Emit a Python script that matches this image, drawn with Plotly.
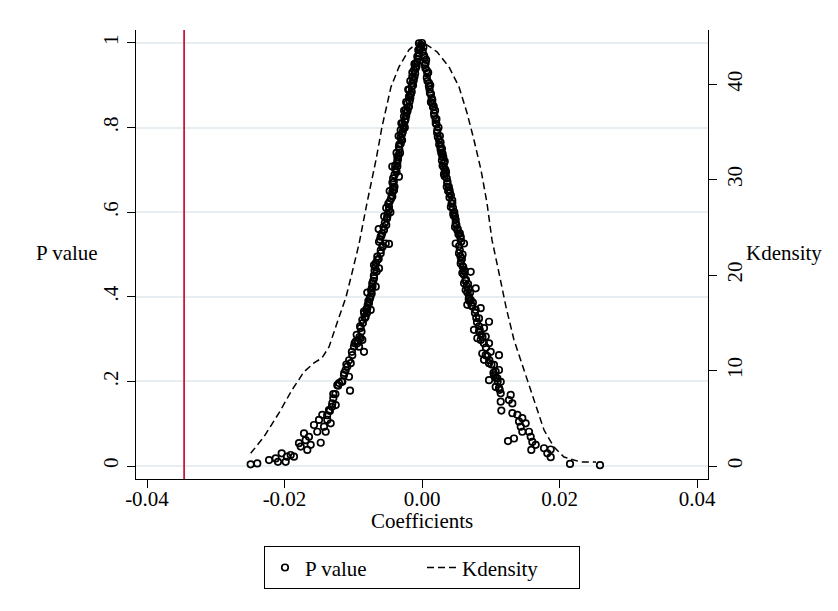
import plotly.graph_objects as go

# ---------------- data ----------------
# Scatter: (coefficient, p value)
left_points = [
    (-0.02492, 0.004), (-0.02396, 0.006), (-0.02225, 0.014), (-0.02128, 0.018),
    (-0.02095, 0.010), (-0.02041, 0.030), (-0.01983, 0.010), (-0.01964, 0.022),
    (-0.01910, 0.026), (-0.01862, 0.022), (-0.01789, 0.054), (-0.01764, 0.046),
    (-0.01716, 0.077), (-0.01692, 0.061), (-0.01668, 0.038), (-0.01644, 0.069),
    (-0.01619, 0.050), (-0.01571, 0.097), (-0.01523, 0.081), (-0.01498, 0.109),
    (-0.01473, 0.055), (-0.01450, 0.121), (-0.01425, 0.093), (-0.01401, 0.081),
    (-0.01377, 0.109), (-0.01353, 0.132), (-0.01328, 0.101), (-0.01305, 0.148),
    (-0.01290, 0.170), (-0.01255, 0.144), (-0.01232, 0.191), (-0.01207, 0.196),
    (-0.01159, 0.199), (-0.01135, 0.215), (-0.01110, 0.227), (-0.01087, 0.235),
    (-0.01062, 0.211), (-0.01047, 0.178), (-0.01037, 0.243), (-0.01014, 0.262),
    (-0.00989, 0.282), (-0.00964, 0.294), (-0.00941, 0.290), (-0.00916, 0.282),
    (-0.00892, 0.302), (-0.00868, 0.298), (-0.00844, 0.270), (-0.00892, 0.326),
    (-0.00868, 0.345), (-0.00844, 0.365), (-0.00819, 0.353), (-0.00796, 0.373),
    (-0.00771, 0.385), (-0.00746, 0.369), (-0.00796, 0.410), (-0.00732, 0.408),
    (-0.00723, 0.432), (-0.00698, 0.444), (-0.00673, 0.424), (-0.00698, 0.475),
    (-0.00650, 0.487), (-0.00625, 0.467), (-0.00601, 0.503), (-0.00577, 0.518),
    (-0.00625, 0.530), (-0.00528, 0.526), (-0.00480, 0.525),
    (-0.00601, 0.542), (-0.00553, 0.558), (-0.00505, 0.589), (-0.00480, 0.605),
    (-0.00432, 0.637), (-0.00407, 0.652), (-0.00432, 0.708), (-0.00359, 0.708),
    (-0.00335, 0.684), (-0.00359, 0.731), (-0.00335, 0.755), (-0.00310, 0.778),
    (-0.00310, 0.794), (-0.00287, 0.810), (-0.00262, 0.826), (-0.00237, 0.842),
    (-0.00214, 0.857), (-0.00189, 0.873), (-0.00189, 0.889), (-0.00141, 0.905),
    (-0.00141, 0.920), (-0.00116, 0.936), (-0.00092, 0.952), (-0.00068, 0.968),
    (-0.00054, 0.983), (-0.00044, 0.999), (0.00000, 1.000),
    (-0.0058, 0.55), (-0.0052, 0.57), (-0.0046, 0.60), (-0.0049, 0.62),
    (-0.0044, 0.64), (-0.0040, 0.66), (-0.0042, 0.68), (-0.0038, 0.70),
    (-0.0036, 0.72), (-0.0032, 0.74), (-0.0033, 0.76), (-0.0029, 0.77),
    (-0.0028, 0.79), (-0.0025, 0.80), (-0.0024, 0.82), (-0.0021, 0.84),
    (-0.0019, 0.85), (-0.0017, 0.87), (-0.0016, 0.88), (-0.0013, 0.90),
    (-0.0011, 0.92), (-0.0009, 0.94), (-0.0007, 0.955), (-0.0005, 0.97),
    (-0.0003, 0.985), (-0.0001, 0.995),
    (-0.0063, 0.56), (-0.0055, 0.59), (-0.0052, 0.61), (-0.0047, 0.65),
    (-0.0043, 0.67), (-0.0039, 0.71), (-0.0037, 0.74), (-0.0034, 0.78),
    (-0.0030, 0.81), (-0.0026, 0.84), (-0.0023, 0.86), (-0.0020, 0.89),
    (-0.0017, 0.91), (-0.0014, 0.93), (-0.0011, 0.95),
    (-0.0070, 0.45), (-0.0066, 0.46), (-0.0063, 0.49), (-0.0060, 0.51),
    (-0.0057, 0.52), (-0.0068, 0.47), (-0.0073, 0.42), (-0.0075, 0.40),
    (-0.0078, 0.39), (-0.0081, 0.37), (-0.0084, 0.36),
    (-0.0090, 0.33), (-0.0095, 0.31), (-0.0098, 0.29), (-0.0102, 0.27),
    (-0.0106, 0.25), (-0.0110, 0.24), (-0.0113, 0.22), (-0.0117, 0.20),
    (-0.0122, 0.19), (-0.0126, 0.17), (-0.0129, 0.16), (-0.0131, 0.14),
    (-0.0134, 0.13), (-0.0138, 0.12),
    (-0.0061, 0.535), (-0.0059, 0.545), (-0.0056, 0.565), (-0.0054, 0.575),
    (-0.0051, 0.585), (-0.0050, 0.595), (-0.0048, 0.612), (-0.0047, 0.625),
    (-0.0045, 0.632), (-0.0043, 0.648), (-0.0042, 0.658), (-0.0041, 0.672),
    (-0.0040, 0.688), (-0.0037, 0.695), (-0.0039, 0.702), (-0.0036, 0.715),
    (-0.0035, 0.725), (-0.0034, 0.735), (-0.0033, 0.748), (-0.0031, 0.762),
    (-0.0030, 0.772), (-0.0029, 0.785), (-0.0027, 0.797), (-0.0026, 0.806),
    (-0.0025, 0.815), (-0.0023, 0.828), (-0.0022, 0.836), (-0.0020, 0.848),
    (-0.0018, 0.862), (-0.0017, 0.878), (-0.0015, 0.885), (-0.0015, 0.897),
    (-0.0012, 0.912), (-0.0010, 0.928), (-0.0008, 0.945), (-0.0006, 0.962),
    (-0.0004, 0.975), (-0.0002, 0.990),
    (-0.0065, 0.495), (-0.0067, 0.480), (-0.0069, 0.462), (-0.0071, 0.438),
    (-0.0072, 0.425), (-0.0074, 0.415), (-0.0076, 0.395), (-0.0079, 0.380),
    (-0.0080, 0.362), (-0.0083, 0.350), (-0.0086, 0.338), (-0.0088, 0.318),
    (-0.0091, 0.305), (-0.0093, 0.295),
]

right_points = [
    (0.00053, 0.952), (0.00078, 0.928), (0.00102, 0.905), (0.00116, 0.881),
    (0.00150, 0.857), (0.00175, 0.834), (0.00199, 0.818), (0.00223, 0.794),
    (0.00247, 0.771), (0.00272, 0.755), (0.00296, 0.731), (0.00320, 0.716),
    (0.00345, 0.692), (0.00368, 0.668), (0.00407, 0.645), (0.00441, 0.621),
    (0.00455, 0.597), (0.00490, 0.574), (0.00513, 0.558), (0.00563, 0.542),
    (0.00611, 0.526), (0.00490, 0.526), (0.00538, 0.503), (0.00563, 0.479),
    (0.00587, 0.456), (0.00611, 0.463), (0.00708, 0.459), (0.00611, 0.432),
    (0.00635, 0.416), (0.00684, 0.400), (0.00781, 0.420), (0.00659, 0.381),
    (0.00732, 0.377), (0.00781, 0.369), (0.00854, 0.373), (0.00829, 0.349),
    (0.00975, 0.341), (0.00756, 0.322), (0.00829, 0.318), (0.00902, 0.326),
    (0.00805, 0.302), (0.00854, 0.298), (0.00927, 0.306), (0.00975, 0.290),
    (0.00877, 0.266), (0.00927, 0.262), (0.00999, 0.270), (0.01120, 0.262),
    (0.00902, 0.251), (0.00975, 0.243), (0.01047, 0.239), (0.01072, 0.223),
    (0.01120, 0.227), (0.01047, 0.215), (0.01096, 0.207), (0.00975, 0.203),
    (0.01145, 0.199), (0.01072, 0.187), (0.01120, 0.184), (0.01145, 0.172),
    (0.01290, 0.168), (0.01265, 0.156), (0.01145, 0.152), (0.01314, 0.148),
    (0.01154, 0.131), (0.01314, 0.125), (0.01387, 0.121), (0.01411, 0.105),
    (0.01459, 0.113), (0.01508, 0.101), (0.01436, 0.093), (0.01556, 0.081),
    (0.01459, 0.081), (0.01338, 0.065), (0.01251, 0.059), (0.01581, 0.069),
    (0.01605, 0.057), (0.01654, 0.050), (0.01590, 0.038), (0.01775, 0.042),
    (0.01872, 0.039), (0.01823, 0.030), (0.01872, 0.021), (0.02153, 0.005),
    (0.02589, 0.002),
    (0.0002, 0.99), (0.0003, 0.97), (0.0006, 0.96), (0.0005, 0.94),
    (0.0009, 0.93), (0.0008, 0.91), (0.0012, 0.90), (0.0011, 0.89),
    (0.0014, 0.87), (0.0013, 0.86), (0.0017, 0.85), (0.0019, 0.84),
    (0.0021, 0.82), (0.0020, 0.81), (0.0024, 0.80), (0.0026, 0.78),
    (0.0025, 0.76), (0.0029, 0.75), (0.0028, 0.74), (0.0031, 0.73),
    (0.0033, 0.72), (0.0030, 0.71), (0.0034, 0.70), (0.0032, 0.69),
    (0.0036, 0.68), (0.0039, 0.66), (0.0038, 0.65), (0.0042, 0.64),
    (0.0043, 0.62), (0.0045, 0.61), (0.0047, 0.60), (0.0048, 0.59),
    (0.0050, 0.57), (0.0052, 0.56), (0.0055, 0.55),
    (0.0057, 0.53), (0.0055, 0.51), (0.0059, 0.50), (0.0058, 0.49),
    (0.0060, 0.47), (0.0062, 0.46), (0.0064, 0.44), (0.0067, 0.43),
    (0.0066, 0.41), (0.0070, 0.41), (0.0069, 0.39), (0.0072, 0.38),
    (0.0079, 0.35), (0.0083, 0.33), (0.0086, 0.31), (0.0090, 0.29),
    (0.0093, 0.28), (0.0095, 0.26), (0.0098, 0.25), (0.0101, 0.24),
    (0.0104, 0.22), (0.0107, 0.21), (0.0110, 0.20), (0.0113, 0.18),
    (0.0001, 0.980), (0.0004, 0.965), (0.0004, 0.948), (0.0007, 0.935),
    (0.0007, 0.918), (0.0010, 0.898), (0.0013, 0.880), (0.0015, 0.865),
    (0.0016, 0.848), (0.0018, 0.828), (0.0021, 0.808), (0.0022, 0.788),
    (0.0023, 0.778), (0.0027, 0.765), (0.0027, 0.748), (0.0030, 0.738),
    (0.0029, 0.722), (0.0032, 0.705), (0.0035, 0.695), (0.0033, 0.685),
    (0.0037, 0.672), (0.0036, 0.660), (0.0040, 0.652), (0.0040, 0.635),
    (0.0044, 0.628), (0.0042, 0.612), (0.0046, 0.592), (0.0049, 0.582),
    (0.0048, 0.565), (0.0053, 0.548), (0.0056, 0.538),
    (0.0054, 0.520), (0.0056, 0.495), (0.0057, 0.485), (0.0059, 0.472),
    (0.0061, 0.452), (0.0063, 0.438), (0.0065, 0.425), (0.0068, 0.418),
    (0.0068, 0.395), (0.0071, 0.392), (0.0074, 0.386), (0.0077, 0.362),
    (0.0080, 0.340), (0.0084, 0.322), (0.0088, 0.305),
]

# Kernel density curve (coefficient, density)
kd_coef = [-0.02492, -0.02298, -0.02080, -0.01891, -0.01716, -0.01571, -0.01455,
           -0.01353, -0.01236, -0.01105, -0.01018, -0.00916, -0.00800, -0.00669,
           -0.00582, -0.00451, -0.00335, -0.00189, -0.00073, 0.00029, 0.00218,
           0.00393, 0.00538, 0.00655, 0.00756, 0.00858, 0.00945, 0.01018, 0.01120,
           0.01222, 0.01338, 0.01484, 0.01629, 0.01775, 0.01920, 0.02065, 0.02313,
           0.02531]
kd_dens = [1.33, 3.07, 5.56, 7.97, 9.88, 10.80, 11.32, 12.47, 14.99, 17.71, 20.23,
           23.27, 27.57, 32.08, 35.53, 39.73, 41.82, 43.61, 44.34, 44.34, 43.40,
           41.82, 39.73, 37.00, 34.17, 31.03, 27.57, 23.69, 20.23, 16.67, 13.21,
           10.06, 6.92, 3.77, 1.99, 0.94, 0.42, 0.42]

true_coef = -0.0346  # actual estimated coefficient (red line)

x_ticks = [-0.04, -0.02, 0.00, 0.02, 0.04]
x_tick_text = ["-0.04", "-0.02", "0.00", "0.02", "0.04"]
p_ticks = [0, 0.2, 0.4, 0.6, 0.8, 1]
p_tick_text = ["0", ".2", ".4", ".6", ".8", "1"]
kd_ticks = [0, 10, 20, 30, 40]

# ---------------- figure ----------------
pts = left_points + right_points
coef_vals = [c for c, _ in pts]
p_vals = [p for _, p in pts]

FONT = "Liberation Serif, Times New Roman, serif"
FS = 21

fig = go.Figure()
fig.add_trace(go.Scatter(
    x=coef_vals, y=p_vals, mode="markers", name="P value",
    marker=dict(symbol="circle-open", size=6.5, color="black",
                line=dict(color="black", width=1.7)),
    yaxis="y",
))
fig.add_trace(go.Scatter(
    x=kd_coef, y=kd_dens, mode="lines", name="Kdensity",
    line=dict(color="black", width=1.5, dash="7px,4px"),
    yaxis="y2",
))

fig.add_shape(type="line", xref="x", yref="paper",
              x0=true_coef, x1=true_coef, y0=0, y1=1,
              line=dict(color="#C8163C", width=1.8))

axis_common = dict(zeroline=False, showline=True, linecolor="black", linewidth=1.3,
                   ticks="outside", ticklen=8, tickwidth=1.3, tickcolor="black",
                   tickfont=dict(family=FONT, size=FS))

fig.update_layout(
    width=838, height=611,
    margin=dict(l=136, r=130, t=30, b=132),
    paper_bgcolor="white", plot_bgcolor="white",
    font=dict(family=FONT, size=FS, color="black"),
    showlegend=True,
    legend=dict(orientation="h", x=0.5, xanchor="center",
                y=-0.150, yanchor="top",
                bordercolor="black", borderwidth=1,
                font=dict(family=FONT, size=FS, color="black"),
                entrywidth=112, entrywidthmode="pixels",
                itemwidth=30, tracegroupgap=0),
    xaxis=dict(range=[-0.0416, 0.0416], tickvals=x_ticks, ticktext=x_tick_text,
               showgrid=False, ticklabelstandoff=-7, **axis_common),
    yaxis=dict(range=[-0.0307, 1.0307], tickvals=p_ticks, ticktext=p_tick_text,
               tickangle=-90, showgrid=True, gridcolor="#E6EEF1", gridwidth=1.5,
               **axis_common),
    yaxis2=dict(range=[-1.36, 45.69], tickvals=kd_ticks, overlaying="y",
                side="right", tickangle=-90, showgrid=False, **axis_common),
    annotations=[
        dict(text="P value", xref="paper", yref="paper", x=-0.1206, y=0.503,
             xanchor="center", yanchor="middle", showarrow=False,
             font=dict(family=FONT, size=FS)),
        dict(text="Kdensity", xref="paper", yref="paper", x=1.1337, y=0.503,
             xanchor="center", yanchor="middle", showarrow=False,
             font=dict(family=FONT, size=FS)),
        dict(text="Coefficients", xref="paper", yref="paper", x=0.5, y=-0.0935,
             xanchor="center", yanchor="middle", showarrow=False,
             font=dict(family=FONT, size=FS)),
    ],
)

fig.write_html("out.html")
